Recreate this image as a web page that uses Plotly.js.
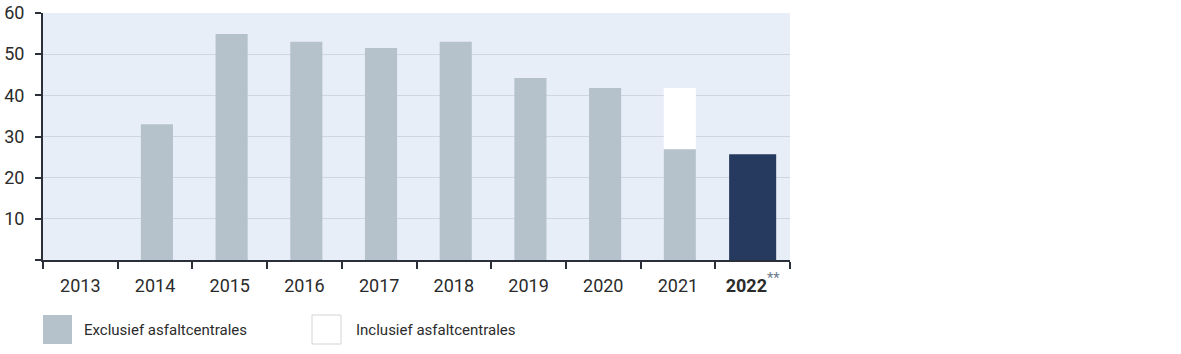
<!DOCTYPE html>
<html>
<head>
<meta charset="utf-8">
<script src="https://cdn.plot.ly/plotly-3.0.1.min.js"></script>
<style>html,body{margin:0;padding:0;background:#fff;}#chart{width:1181px;height:354px;}</style>
</head>
<body>
<div id="chart"></div>
<script>
var years = ["2013","2014","2015","2016","2017","2018","2019","2020","2021","2022"];
var yearLabels = ["2013","2014","2015","2016","2017","2018","2019","2020","2021","<b>2022</b><span style='color:#6f7b8f;font-size:21px'><sup>**</sup></span>"];
var exclusief = [null, 33.0, 54.9, 53.0, 51.5, 53.0, 44.2, 41.8, 26.9, null];
var inclusief = [null, null, null, null, null, null, null, null, 41.8, null];
var y2022 = [null, null, null, null, null, null, null, null, null, 25.7];
var yTicks = [0, 10, 20, 30, 40, 50, 60];
var yTickText = ["", "10", "20", "30", "40", "50", "60"];
var legendNames = ["Exclusief asfaltcentrales", "Inclusief asfaltcentrales"];

var fontFam = "Roboto, 'DejaVu Sans', sans-serif";
var traces = [
  {type:'bar', x:years, y:inclusief, name:legendNames[1], width:0.43, offset:-0.19,
   marker:{color:'#ffffff', line:{width:0}}, hoverinfo:'skip', showlegend:false},
  {type:'bar', x:years, y:exclusief, name:legendNames[0], width:0.43, offset:-0.19,
   marker:{color:'#b6c2cb', line:{width:0}}, hoverinfo:'skip', showlegend:false},
  {type:'bar', x:years, y:y2022, name:'2022', width:0.63,
   marker:{color:'#263a5f', line:{width:0}}, hoverinfo:'skip', showlegend:false}
];

var layout = {
  width:1181, height:354,
  margin:{l:43, r:391, t:13, b:94, pad:0},
  paper_bgcolor:'#ffffff', plot_bgcolor:'#e8eef7',
  barmode:'overlay',
  font:{family:fontFam, color:'#2b2b2b', size:17},
  xaxis:{type:'category', tickvals:years, ticktext:yearLabels,
    tickson:'boundaries', ticks:'outside', ticklen:7, tickwidth:2, tickcolor:'#2a2f3a',
    showline:true, linecolor:'#2a2f3a', linewidth:2, showgrid:false, zeroline:false,
    tickfont:{size:18, color:'#2b2b2b'}, ticklabelstandoff:8, fixedrange:true},
  yaxis:{range:[0,60], tickvals:yTicks, ticktext:yTickText,
    ticks:'outside', ticklen:6, tickwidth:2, tickcolor:'#2a2f3a',
    showline:true, linecolor:'#2a2f3a', linewidth:2,
    showgrid:true, gridcolor:'#d0d6df', gridwidth:1, zeroline:false,
    tickfont:{size:18, color:'#2b2b2b'}, ticklabelstandoff:7, fixedrange:true},
  shapes:[
    {type:'rect', xref:'paper', yref:'paper', x0:0/747, x1:29/747, y0:-84/247, y1:-55/247,
     fillcolor:'#b6c2cb', line:{width:0}},
    {type:'rect', xref:'paper', yref:'paper', x0:269/747, x1:298/747, y0:-84/247, y1:-55/247,
     fillcolor:'#ffffff', line:{width:1, color:'#d0d4d8'}}
  ],
  annotations:[
    {xref:'paper', yref:'paper', x:39/747, y:-69.5/247, xanchor:'left', yanchor:'middle',
     text:legendNames[0], showarrow:false, font:{size:15, color:'#2b2b2b'}},
    {xref:'paper', yref:'paper', x:311/747, y:-69.5/247, xanchor:'left', yanchor:'middle',
     text:legendNames[1], showarrow:false, font:{size:15, color:'#2b2b2b'}}
  ]
};

Plotly.newPlot('chart', traces, layout, {staticPlot:true, displayModeBar:false});
</script>
</body>
</html>
